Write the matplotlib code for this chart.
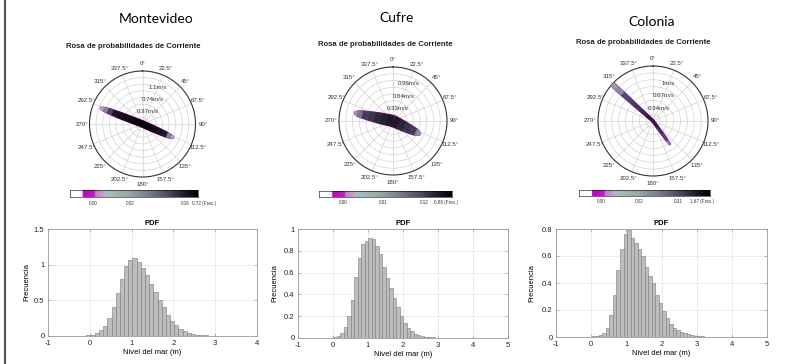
import numpy as np
import matplotlib
matplotlib.use('Agg')
import matplotlib.pyplot as plt
from matplotlib.colors import LinearSegmentedColormap
from matplotlib.collections import PolyCollection
from matplotlib.patches import Polygon, Circle
from matplotlib.lines import Line2D

plt.rcParams['font.family'] = ['Liberation Sans', 'DejaVu Sans']
plt.rcParams['axes.unicode_minus'] = False

# ---------------- data ----------------
stations = ['Montevideo', 'Cufre', 'Colonia']
angle_vals = np.arange(0, 360, 22.5)
angle_labels = ['0°', '22.5°', '45°', '67.5°', '90°', '112.5°', '135°', '157.5°',
                '180°', '202.5°', '225°', '247.5°', '270°', '292.5°', '315°', '337.5°']

# rosas (velocidad en m/s)
mv_rmax = 1.48
mv_ring_vals = [0.37, 0.74, 1.1]
mv_ring_labels = ['0.37m/s', '0.74m/s', '1.1m/s']
mv_cb_freq = [0.0, 0.02, 0.16, 0.72]
mv_cb_labels = ['0.00', '0.02', '0.16', '0.72 (Frec.)']
mv_dir_a, mv_dir_b = 291, 114
mv_speed_a = [0, 0.15, 0.3, 0.45, 0.6, 0.75, 0.9, 1.05, 1.18, 1.26]
mv_freq_a = [0.72, 0.6, 0.5, 0.4, 0.3, 0.2, 0.12, 0.05, 0.01, 0.0]
mv_half_a = [0.09, 0.09, 0.09, 0.09, 0.09, 0.085, 0.08, 0.07, 0.05, 0.02]
mv_speed_b = [0, 0.15, 0.3, 0.45, 0.6, 0.75, 0.88, 0.95]
mv_freq_b = [0.72, 0.6, 0.45, 0.3, 0.16, 0.06, 0.01, 0.0]
mv_half_b = [0.09, 0.09, 0.09, 0.085, 0.08, 0.07, 0.05, 0.02]

cu_rmax = 1.28
cu_ring_vals = [0.32, 0.64, 0.96]
cu_ring_labels = ['0.32m/s', '0.64m/s', '0.96m/s']
cu_cb_freq = [0.0, 0.01, 0.12, 0.88]
cu_cb_labels = ['0.00', '0.01', '0.12', '0.88 (Frec.)']
cu_dir_a, cu_dir_b = 282, 116
cu_speed_a = [0, 0.15, 0.3, 0.45, 0.6, 0.75, 0.87, 0.93]
cu_freq_a = [0.88, 0.7, 0.5, 0.3, 0.15, 0.06, 0.01, 0.0]
cu_half_a = [0.13, 0.13, 0.125, 0.115, 0.10, 0.085, 0.06, 0.02]
cu_speed_b = [0, 0.15, 0.3, 0.45, 0.6, 0.67, 0.72]
cu_freq_b = [0.88, 0.6, 0.35, 0.15, 0.04, 0.01, 0.0]
cu_half_b = [0.13, 0.125, 0.115, 0.10, 0.08, 0.055, 0.02]

co_rmax = 1.34
co_ring_vals = [0.34, 0.67, 1.0]
co_ring_labels = ['0.34m/s', '0.67m/s', '1m/s']
co_cb_freq = [0.0, 0.02, 0.31, 1.67]
co_cb_labels = ['0.00', '0.02', '0.31', '1.67 (Frec.)']
co_dir_a, co_dir_b = 312, 144
co_speed_a = [0, 0.2, 0.4, 0.6, 0.8, 1.0, 1.2, 1.34]
co_freq_a = [1.67, 1.2, 0.8, 0.5, 0.3, 0.1, 0.03, 0.005]
co_half_a = [0.03, 0.035, 0.04, 0.045, 0.05, 0.055, 0.055, 0.05]
co_speed_b = [0, 0.2, 0.4, 0.6, 0.71]
co_freq_b = [1.67, 0.9, 0.4, 0.1, 0.01]
co_half_b = [0.03, 0.03, 0.03, 0.025, 0.015]

# histogramas PDF (ancho de clase 0.1 m)
mv_bin0 = -0.28
mv_pdf = [0.002, 0.004, 0.01, 0.02, 0.04, 0.08, 0.14, 0.25, 0.41, 0.60, 0.80, 0.98,
          1.06, 1.09, 1.04, 0.95, 0.85, 0.73, 0.62, 0.50, 0.40, 0.30, 0.21, 0.15,
          0.10, 0.07, 0.045, 0.03, 0.02, 0.012, 0.008, 0.005, 0.003, 0.002]
cu_bin0 = -0.1
cu_pdf = [0.003, 0.008, 0.02, 0.05, 0.10, 0.20, 0.35, 0.56, 0.73, 0.86, 0.89, 0.92,
          0.91, 0.84, 0.77, 0.65, 0.55, 0.46, 0.37, 0.28, 0.20, 0.14, 0.09, 0.06,
          0.04, 0.025, 0.016, 0.01, 0.007, 0.005, 0.003, 0.002]
co_bin0 = -0.08
co_pdf = [0.002, 0.004, 0.008, 0.015, 0.03, 0.07, 0.16, 0.31, 0.50, 0.65, 0.76, 0.79,
          0.73, 0.70, 0.65, 0.60, 0.52, 0.45, 0.40, 0.31, 0.25, 0.19, 0.14, 0.10,
          0.07, 0.05, 0.04, 0.03, 0.02, 0.015, 0.01, 0.007, 0.005, 0.003, 0.002]

# ---------------- style ----------------
W, H = 806, 364
rose_cmap = LinearSegmentedColormap.from_list('rosa', [
    (0.0, '#ffffff'), (0.095, '#ffffff'), (0.10, '#c000c8'), (0.19, '#c818c8'),
    (0.20, '#c878d0'), (0.27, '#c4a8c8'), (0.28, '#a8c0bc'), (0.45, '#98aaaa'),
    (0.60, '#7a8090'), (0.75, '#505068'), (0.88, '#202030'), (1.0, '#000000')])


def px_box(x0, y0, x1, y1):
    return [x0 / W, 1 - y1 / H, (x1 - x0) / W, (y1 - y0) / H]


fig = plt.figure(figsize=(W / 100, H / 100), dpi=100)
fig.add_artist(Line2D([5 / W, 5 / W], [0, 1], transform=fig.transFigure,
                      color='#555555', lw=1.6))


def lobe_sides(direction, speeds, half):
    t = np.deg2rad(direction)
    u = np.array([np.sin(t), np.cos(t)])
    n = np.array([np.cos(t), -np.sin(t)])
    s = np.asarray(speeds, float)[:, None]
    w = np.asarray(half, float)[:, None]
    return s * u + w * n, s * u - w * n


def draw_rose(rect, rmax, ring_vals, ring_labels, cb_freq, cb_pos, lobes):
    ax = fig.add_axes(rect, projection='polar')
    ax.set_theta_zero_location('N')
    ax.set_theta_direction(-1)
    ax.set_ylim(0, rmax)
    ax.set_thetagrids(angle_vals, [''] * len(angle_vals))
    ax.set_rgrids(np.arange(1, 8) * rmax / 8, labels=[''] * 7)
    ax.grid(color='#d2d2d2', lw=0.5)
    ax.spines['polar'].set_color('#333333')
    ax.spines['polar'].set_linewidth(0.8)
    for a, lab in zip(angle_vals, angle_labels):
        ax.text(np.deg2rad(a), rmax * 1.14, lab, fontsize=4.4, ha='center', va='center',
                color='#333333')
    for v, lab in zip(ring_vals, ring_labels):
        ax.text(np.deg2rad(22.5), v, lab, fontsize=4.4, ha='center', va='center',
                color='#333333')

    ov = fig.add_axes(rect)
    ov.set_xlim(-rmax, rmax)
    ov.set_ylim(-rmax, rmax)
    ov.set_aspect('equal')
    ov.axis('off')
    ov.patch.set_alpha(0)
    clip = Circle((0, 0), rmax, transform=ov.transData)

    (da, sa, fa, ha), (db, sb, fb, hb) = lobes
    ap, am = lobe_sides(da, sa, ha)
    bp, bm = lobe_sides(db, sb, hb)
    outline = np.vstack([ap[::-1], bm, bp[::-1], am])
    fringe = Polygon(outline, closed=True, facecolor='#c000c8', edgecolor='#c000c8',
                     lw=0.9, zorder=1)
    ov.add_patch(fringe)
    fringe.set_clip_path(clip)

    quads, cols = [], []
    for plus, minus, freq in ((ap, am, fa), (bp, bm, fb)):
        for i in range(len(freq) - 1):
            quads.append([plus[i], plus[i + 1], minus[i + 1], minus[i]])
            cols.append(rose_cmap(np.interp(freq[i], cb_freq, cb_pos)))
    pc = PolyCollection(quads, facecolors=cols, edgecolors=cols, lw=0.3, zorder=2)
    ov.add_collection(pc)
    pc.set_clip_path(clip)
    return ax


def draw_cbar(rect, labels, pos):
    cax = fig.add_axes(rect)
    cax.imshow(np.linspace(0, 1, 256)[None, :], aspect='auto', cmap=rose_cmap,
               extent=[0, 1, 0, 1])
    cax.set_xticks([])
    cax.set_yticks([])
    for s in cax.spines.values():
        s.set_linewidth(0.4)
    for i, (p, lab) in enumerate(zip(pos, labels)):
        last = i == len(labels) - 1
        cax.text(p - (0.035 if last else 0), -0.9, lab, transform=cax.transAxes,
                 fontsize=3.3, ha='left' if last else 'center', va='center',
                 color='#333333')


def draw_hist(rect, bin0, pdf, xmax, ymax, yticks, ylabels, ylab_px):
    ax = fig.add_axes(rect)
    left = bin0 + 0.1 * np.arange(len(pdf))
    ax.bar(left, pdf, width=0.1, align='edge', color='#bdbdbd', edgecolor='#7a7a7a',
           lw=0.4, zorder=2)
    ax.set_xlim(-1, xmax)
    ax.set_ylim(0, ymax)
    ax.set_xticks(range(-1, xmax + 1))
    ax.set_yticks(yticks)
    ax.set_yticklabels(ylabels)
    ax.grid(True, color='#e4e4e4', lw=0.5, zorder=0)
    ax.set_axisbelow(True)
    for s in ax.spines.values():
        s.set_color('#9a9a9a')
        s.set_linewidth(0.6)
    ax.tick_params(direction='in', length=2, width=0.5, colors='#9a9a9a',
                   labelcolor='#222222', labelsize=5.5, top=True, right=True)
    ax.tick_params(axis='x', pad=3)
    ax.tick_params(axis='y', pad=2.5)
    ax.set_title('PDF', fontsize=5.5, fontweight='bold', pad=3)
    ax.set_xlabel('Nivel del mar (m)', fontsize=5.5, labelpad=1.5)
    ax.set_ylabel('Frecuencia', fontsize=5.5)
    ax.yaxis.set_label_coords(-ylab_px / (rect[2] * W), 0.5)
    return ax


# ---------------- Montevideo ----------------
fig.text(156 / W, 1 - 19 / H, stations[0], fontsize=10, family='Lato', ha='center', va='center')
fig.text(133 / W, 1 - 47 / H, 'Rosa de probabilidades de Corriente', fontsize=5.6,
         fontweight='bold', ha='center', va='center', color='#222222')
draw_rose(px_box(89.5, 71, 195.5, 177), mv_rmax, mv_ring_vals, mv_ring_labels,
          mv_cb_freq, [0.18, 0.47, 0.90, 0.99],
          [(mv_dir_a, mv_speed_a, mv_freq_a, mv_half_a),
           (mv_dir_b, mv_speed_b, mv_freq_b, mv_half_b)])
draw_cbar(px_box(70, 190, 198, 197), mv_cb_labels, [0.18, 0.47, 0.90, 0.99])
draw_hist(px_box(48, 229, 257, 336), mv_bin0, mv_pdf, 4, 1.5,
          [0, 0.5, 1, 1.5], ['0', '0.5', '1', '1.5'], 18)

# ---------------- Cufre ----------------
fig.text(397 / W, 1 - 18.5 / H, stations[1], fontsize=10, family='Lato', ha='center', va='center')
fig.text(385 / W, 1 - 44 / H, 'Rosa de probabilidades de Corriente', fontsize=5.6,
         fontweight='bold', ha='center', va='center', color='#222222')
draw_rose(px_box(339, 67, 447, 175), cu_rmax, cu_ring_vals, cu_ring_labels,
          cu_cb_freq, [0.18, 0.48, 0.79, 0.90],
          [(cu_dir_a, cu_speed_a, cu_freq_a, cu_half_a),
           (cu_dir_b, cu_speed_b, cu_freq_b, cu_half_b)])
draw_cbar(px_box(319, 191, 452, 197), cu_cb_labels, [0.18, 0.48, 0.79, 0.90])
draw_hist(px_box(298, 229, 508, 338), cu_bin0, cu_pdf, 5, 1,
          [0, 0.2, 0.4, 0.6, 0.8, 1], ['0', '0.2', '0.4', '0.6', '0.8', '1'], 20)

# ---------------- Colonia ----------------
fig.text(652 / W, 1 - 22.5 / H, stations[2], fontsize=10, family='Lato', ha='center', va='center')
fig.text(643 / W, 1 - 43 / H, 'Rosa de probabilidades de Corriente', fontsize=5.6,
         fontweight='bold', ha='center', va='center', color='#222222')
draw_rose(px_box(598, 66, 708, 176), co_rmax, co_ring_vals, co_ring_labels,
          co_cb_freq, [0.17, 0.46, 0.76, 0.88],
          [(co_dir_a, co_speed_a, co_freq_a, co_half_a),
           (co_dir_b, co_speed_b, co_freq_b, co_half_b)])
draw_cbar(px_box(579, 190, 710, 196), co_cb_labels, [0.17, 0.46, 0.76, 0.88])
draw_hist(px_box(556, 229, 767, 337), co_bin0, co_pdf, 5, 0.8,
          [0, 0.2, 0.4, 0.6, 0.8], ['0', '0.2', '0.4', '0.6', '0.8'], 21)

fig.savefig('out.png', dpi=100)
